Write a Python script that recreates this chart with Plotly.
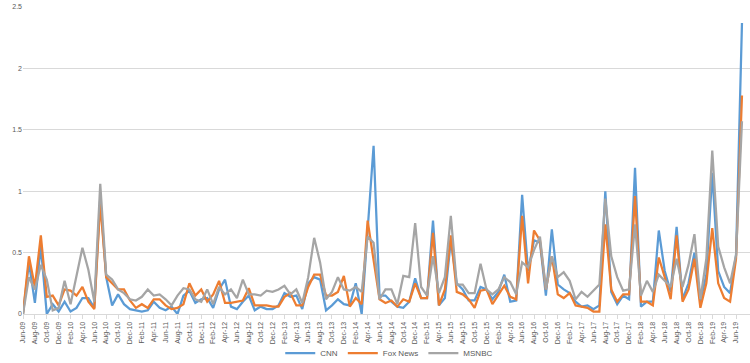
import pandas as pd
import plotly.graph_objects as go

months = [d.strftime("%b-%y") for d in pd.date_range("2009-06-01", "2019-07-01", freq="MS")]

cnn = [0, 0.42, 0.09, 0.55, 0.0, 0.08, 0.02, 0.10, 0.02, 0.05, 0.13, 0.13, 0.05, 0.95, 0.30, 0.07,
       0.16, 0.08, 0.04, 0.03, 0.02, 0.03, 0.10, 0.05, 0.03, 0.06, 0.0, 0.15, 0.19, 0.09,
       0.12, 0.13, 0.05, 0.20, 0.28, 0.06, 0.04, 0.10, 0.15, 0.03, 0.06, 0.04, 0.04, 0.07,
       0.17, 0.14, 0.15, 0.04, 0.25, 0.30, 0.28, 0.03, 0.07, 0.12, 0.08, 0.07, 0.25, 0.0,
       0.65, 1.37, 0.15, 0.15, 0.10, 0.06, 0.05, 0.10, 0.29, 0.13, 0.13, 0.76, 0.07, 0.13,
       0.60, 0.25, 0.20, 0.11, 0.11, 0.22, 0.20, 0.12, 0.18, 0.32, 0.10, 0.11, 0.97, 0.35,
       0.60, 0.58, 0.15, 0.69, 0.24, 0.20, 0.17, 0.10, 0.06, 0.07, 0.04, 0.07, 1.00, 0.18,
       0.08, 0.15, 0.12, 1.19, 0.06, 0.10, 0.10, 0.68, 0.35, 0.18, 0.71, 0.12, 0.25, 0.50,
       0.10, 0.32, 1.15, 0.35, 0.22, 0.17, 0.48, 2.37]
fox = [0, 0.47, 0.22, 0.64, 0.14, 0.15, 0.07, 0.20, 0.19, 0.15, 0.22, 0.10, 0.04, 0.90, 0.30, 0.25,
       0.20, 0.20, 0.11, 0.05, 0.08, 0.05, 0.12, 0.12, 0.07, 0.04, 0.05, 0.08, 0.25, 0.15,
       0.20, 0.10, 0.16, 0.27, 0.09, 0.09, 0.10, 0.11, 0.21, 0.07, 0.07, 0.07, 0.06, 0.06,
       0.14, 0.17, 0.07, 0.07, 0.22, 0.32, 0.32, 0.15, 0.15, 0.18, 0.31, 0.06, 0.13, 0.08,
       0.76, 0.45, 0.12, 0.09, 0.11, 0.06, 0.12, 0.10, 0.25, 0.13, 0.13, 0.66, 0.07, 0.20,
       0.64, 0.18, 0.16, 0.12, 0.05, 0.19, 0.20, 0.08, 0.15, 0.23, 0.14, 0.12, 0.80, 0.25,
       0.68, 0.60, 0.20, 0.47, 0.16, 0.13, 0.17, 0.07, 0.06, 0.05, 0.02, 0.02, 0.73, 0.20,
       0.10, 0.16, 0.16, 0.96, 0.10, 0.10, 0.07, 0.46, 0.30, 0.12, 0.64, 0.10, 0.20, 0.45,
       0.05, 0.25, 0.70, 0.25, 0.13, 0.10, 0.45, 1.78]
msnbc = [0, 0.30, 0.20, 0.40, 0.28, 0.03, 0.05, 0.27, 0.08, 0.30, 0.54, 0.36, 0.10, 1.06, 0.32, 0.28,
         0.20, 0.17, 0.12, 0.11, 0.14, 0.20, 0.15, 0.16, 0.12, 0.07, 0.15, 0.21, 0.20, 0.12,
         0.10, 0.20, 0.08, 0.22, 0.16, 0.20, 0.13, 0.28, 0.16, 0.16, 0.15, 0.19, 0.18, 0.20,
         0.23, 0.16, 0.20, 0.09, 0.30, 0.62, 0.42, 0.12, 0.18, 0.30, 0.20, 0.19, 0.22, 0.18,
         0.63, 0.58, 0.12, 0.20, 0.20, 0.08, 0.31, 0.30, 0.74, 0.22, 0.15, 0.47, 0.17, 0.30,
         0.80, 0.24, 0.24, 0.17, 0.17, 0.41, 0.20, 0.16, 0.20, 0.30, 0.26, 0.16, 0.42, 0.38,
         0.52, 0.63, 0.20, 0.47, 0.30, 0.34, 0.27, 0.12, 0.18, 0.14, 0.19, 0.24, 0.94, 0.47,
         0.30, 0.19, 0.20, 0.73, 0.15, 0.27, 0.18, 0.32, 0.27, 0.22, 0.45, 0.22, 0.40, 0.65,
         0.12, 0.45, 1.33, 0.55, 0.38, 0.25, 0.48, 1.57]

series = [("CNN", cnn, "#5B9BD5"), ("Fox News", fox, "#ED7D31"), ("MSNBC", msnbc, "#A5A5A5")]

x = list(range(len(months)))
fig = go.Figure()
for name, vals, color in series:
    fig.add_trace(go.Scatter(x=x, y=vals, mode="lines", name=name,
                             line=dict(color=color, width=2.25), cliponaxis=False))

tickvals = x[::2]
ticktext = months[::2]

fig.update_layout(
    width=750, height=363,
    margin=dict(l=23, r=0, t=7, b=49, autoexpand=False),
    paper_bgcolor="white", plot_bgcolor="white",
    font=dict(family="Liberation Sans, Arial, sans-serif", size=8, color="#595959"),
    showlegend=True,
    legend=dict(orientation="h", x=0.519, xanchor="center", xref="container",
                y=10 / 363, yanchor="middle", yref="container", bgcolor="rgba(0,0,0,0)",
                font=dict(size=8, color="#595959"), itemwidth=30, tracegroupgap=0),
    xaxis=dict(range=[0, len(months) - 1 + 1.35], tickvals=tickvals, ticktext=ticktext,
               tickangle=-90, showgrid=False, zeroline=False, showline=True, automargin=False,
               linecolor="#D9D9D9", linewidth=1, ticks="outside", ticklen=4,
               tickcolor="#D9D9D9", tickfont=dict(size=7, color="#595959")),
    yaxis=dict(range=[0, 2.5], tickvals=[0, 0.5, 1, 1.5, 2, 2.5],
               ticktext=["0", "0.5", "1", "1.5", "2", "2.5"], automargin=False,
               showgrid=True, gridcolor="#D9D9D9", gridwidth=1, zeroline=False,
               showline=False, ticks="", tickfont=dict(size=7, color="#595959")),
)

fig.write_html("out.html", config={"displayModeBar": False},
               post_script="document.body.style.margin='0';document.body.style.overflow='hidden';")
